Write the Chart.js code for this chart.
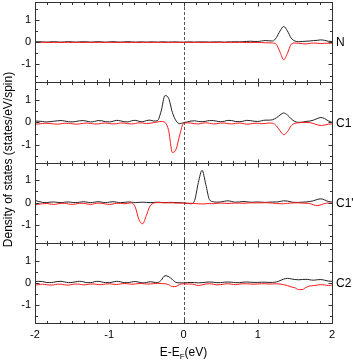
<!DOCTYPE html>
<html>
<head>
<meta charset="utf-8">
<script src="https://cdn.jsdelivr.net/npm/chart.js@4.4.0/dist/chart.umd.min.js"></script>
<style>
  html, body { margin: 0; padding: 0; background: #fff; }
  canvas { display: block; }
</style>
</head>
<body>
<canvas id="dos" width="353" height="363"></canvas>
<script>
// energy grid (eV, relative to Fermi level)
const energy = [
  -2, -1.95, -1.9, -1.85, -1.8, -1.75, -1.7, -1.65, -1.6, -1.55,
  -1.5, -1.45, -1.4, -1.35, -1.3, -1.25, -1.2, -1.15, -1.1, -1.05,
  -1, -0.95, -0.9, -0.85, -0.8, -0.75, -0.7, -0.65, -0.6, -0.55,
  -0.5, -0.45, -0.4, -0.35, -0.3, -0.25, -0.2, -0.15, -0.1, -0.05,
  0, 0.05, 0.1, 0.15, 0.2, 0.25, 0.3, 0.35, 0.4, 0.45,
  0.5, 0.55, 0.6, 0.65, 0.7, 0.75, 0.8, 0.85, 0.9, 0.95,
  1, 1.05, 1.1, 1.15, 1.2, 1.25, 1.3, 1.35, 1.4, 1.45,
  1.5, 1.55, 1.6, 1.65, 1.7, 1.75, 1.8, 1.85, 1.9, 1.95,
  2
];

// N
const nUp = [
  0.01, 0.02, 0.01, 0, 0.01, 0.02, 0.01, 0, 0.01, 0.02,
  0.01, 0, 0.01, 0.02, 0.01, 0, 0.01, 0.02, 0.01, 0,
  0.01, 0.02, 0.01, 0, 0.01, 0.02, 0.01, 0, 0.01, 0.01,
  0, 0.01, 0.01, 0, 0.01, 0.01, 0, 0.01, 0.01, 0,
  0, 0.01, 0.01, 0, 0.01, 0.01, 0.01, 0, 0.01, 0.01,
  0.01, 0, 0.01, 0.01, 0.02, 0.01, 0.02, 0.03, 0.04, 0.03,
  0.03, 0.05, 0.07, 0.06, 0.05, 0.2, 0.5, 0.7, 0.5, 0.18,
  0.05, 0.02, 0.03, 0.04, 0.05, 0.07, 0.08, 0.1, 0.08, 0.04,
  0.03
];
const nDn = [
  -0.01, -0.02, -0.01, -0.01, -0.02, -0.01, -0.01, -0.02, -0.01, -0.01,
  -0.02, -0.01, -0.01, -0.02, -0.01, -0.01, -0.02, -0.01, -0.01, -0.02,
  -0.01, -0.01, -0.02, -0.01, -0.01, -0.02, -0.01, -0.01, -0.02, -0.01,
  -0.01, -0.02, -0.01, -0.01, -0.01, -0.02, -0.01, -0.01, -0.01, -0.01,
  -0.01, -0.01, -0.02, -0.01, -0.01, -0.02, -0.01, -0.01, -0.02, -0.01,
  -0.01, -0.02, -0.01, -0.01, -0.02, -0.01, -0.01, -0.02, -0.02, -0.01,
  -0.02, -0.02, -0.03, -0.03, -0.04, -0.1, -0.45, -0.79, -0.5, -0.1,
  -0.04, -0.05, -0.07, -0.08, -0.06, -0.04, -0.05, -0.06, -0.05, -0.05,
  -0.05
];

// C1
const c1Up = [
  0.06, 0.05, 0.04, 0.02, 0.03, 0.05, 0.07, 0.08, 0.06, 0.03,
  0.02, 0.04, 0.07, 0.08, 0.05, 0.02, 0.04, 0.08, 0.07, 0.03,
  0.02, 0.05, 0.09, 0.07, 0.03, 0.02, 0.07, 0.09, 0.05, 0.03,
  0.08, 0.1, 0.06, 0.08, 0.52, 1.2, 1.08, 0.45, 0.07, -0.06,
  -0.01, 0.02, 0.06, 0.07, 0.04, 0.03, 0.05, 0.08, 0.08, 0.05,
  0.03, 0.05, 0.09, 0.08, 0.04, 0.03, 0.05, 0.09, 0.08, 0.05,
  0.04, 0.07, 0.1, 0.1, 0.12, 0.2, 0.33, 0.42, 0.33, 0.16,
  0.04, 0, 0.01, 0.04, 0.06, 0.1, 0.17, 0.22, 0.17, 0.07,
  0
];
const c1Dn = [
  -0.08, -0.07, -0.05, -0.04, -0.05, -0.07, -0.08, -0.06, -0.04, -0.04,
  -0.06, -0.08, -0.07, -0.04, -0.03, -0.05, -0.07, -0.07, -0.04, -0.03,
  -0.05, -0.07, -0.06, -0.03, -0.03, -0.06, -0.07, -0.05, -0.02, -0.03,
  -0.05, -0.04, -0.01, 0.02, 0.04, 0, -0.37, -1.35, -1.2, -0.55,
  -0.05, -0.02, -0.03, -0.06, -0.07, -0.04, -0.02, -0.04, -0.07, -0.06,
  -0.03, -0.03, -0.06, -0.07, -0.04, -0.03, -0.05, -0.08, -0.07, -0.04,
  -0.04, -0.06, -0.05, -0.03, -0.04, -0.15, -0.38, -0.55, -0.42, -0.15,
  -0.04, -0.02, 0, 0, -0.01, -0.05, -0.11, -0.14, -0.12, -0.08,
  -0.07
];

// C1'
const c1pUp = [
  0.1, 0.05, 0.01, 0, 0.02, 0.03, 0.01, 0, 0.02, 0.03,
  0.01, 0, 0.02, 0.04, 0.02, 0, 0.02, 0.04, 0.02, 0,
  0.02, 0.04, 0.02, 0, 0.01, 0.03, 0.02, 0, 0.01, 0.02,
  0.01, 0, 0.01, 0.02, 0.01, 0, 0.01, 0.01, 0, 0,
  -0.01, -0.03, -0.05, 0.1, 0.9, 1.45, 0.82, 0.13, 0.04, 0.02,
  0.03, 0.06, 0.08, 0.05, 0.02, 0.03, 0.05, 0.04, 0.02, 0.02,
  0.03, 0.02, 0.01, 0.02, 0.03, 0.03, 0.05, 0.08, 0.07, 0.03,
  0.01, 0.01, 0.02, 0.03, 0.05, 0.08, 0.14, 0.17, 0.12, 0.05,
  0.03
];
const c1pDn = [
  -0.09, -0.07, -0.05, -0.04, -0.06, -0.08, -0.06, -0.03, -0.03, -0.06,
  -0.08, -0.06, -0.03, -0.03, -0.06, -0.08, -0.05, -0.02, -0.03, -0.06,
  -0.08, -0.06, -0.03, -0.03, -0.05, -0.03, -0.01, -0.2, -0.76, -0.95,
  -0.57, -0.15, -0.02, 0, 0, -0.01, -0.01, -0.01, -0.02, -0.02,
  -0.02, -0.03, -0.03, -0.04, -0.05, -0.06, -0.05, -0.04, -0.05, -0.03,
  -0.02, -0.03, -0.04, -0.03, -0.02, -0.02, -0.03, -0.02, -0.01, -0.01,
  -0.01, -0.01, 0, -0.01, -0.02, -0.04, -0.05, -0.05, -0.03, -0.02,
  -0.01, -0.01, -0.02, -0.03, -0.04, -0.1, -0.13, -0.1, -0.04, -0.02,
  -0.03
];

// C2
const c2Up = [
  0.05, 0.07, 0.06, 0.02, 0.01, 0.03, 0.06, 0.07, 0.04, 0.01,
  0.02, 0.05, 0.07, 0.05, 0.01, 0.01, 0.05, 0.07, 0.04, 0.01,
  0.01, 0.04, 0.07, 0.05, 0.01, 0.01, 0.04, 0.06, 0.03, 0,
  0.02, 0.05, 0.03, 0.01, 0.12, 0.32, 0.28, 0.15, 0.02, 0,
  0, 0.01, 0.02, 0.01, 0, 0.01, 0.03, 0.04, 0.03, 0.01,
  0.01, 0.03, 0.04, 0.03, 0.01, 0.01, 0.03, 0.04, 0.03, 0.02,
  0.02, 0.03, 0.03, 0.02, 0.02, 0.04, 0.1, 0.17, 0.2, 0.18,
  0.15, 0.14, 0.15, 0.16, 0.14, 0.12, 0.14, 0.15, 0.12, 0.08,
  0.07
];
const c2Dn = [
  -0.1, -0.08, -0.06, -0.08, -0.1, -0.09, -0.06, -0.06, -0.09, -0.1,
  -0.07, -0.05, -0.06, -0.09, -0.08, -0.05, -0.05, -0.08, -0.08, -0.05,
  -0.04, -0.06, -0.07, -0.05, -0.03, -0.04, -0.06, -0.05, -0.03, -0.03,
  -0.05, -0.05, -0.03, -0.02, -0.03, -0.04, -0.08, -0.17, -0.16, -0.07,
  -0.04, -0.05, -0.05, -0.08, -0.12, -0.09, -0.05, -0.04, -0.06, -0.09,
  -0.08, -0.05, -0.04, -0.06, -0.08, -0.06, -0.04, -0.04, -0.05, -0.06,
  -0.05, -0.04, -0.04, -0.05, -0.05, -0.04, -0.05, -0.08, -0.12, -0.18,
  -0.22, -0.3, -0.3, -0.2, -0.14, -0.12, -0.1, -0.08, -0.09, -0.12,
  -0.1
];

const panels = ["N", "C1", "C1'", "C2"];
const upSeries = [nUp, c1Up, c1pUp, c2Up];
const dnSeries = [nDn, c1Dn, c1pDn, c2Dn];
const xTicks = [-2, -1, 0, 1, 2];
const yTicks = [-1, 0, 1];
const yMinorTicks = [-1.5, -0.5, 0.5, 1.5];
const xMinorPerUnit = 6;

const FONT = "'Liberation Sans', Arial, sans-serif";

upSeries.concat(dnSeries).forEach((a, i) => {
  if (a.length !== energy.length) throw new Error("series " + i + " has " + a.length + " points");
});

function pts(arr) {
  return energy.map((e, i) => ({ x: e, y: arr[i] }));
}

const datasets = [];
panels.forEach((name, k) => {
  const yId = "y" + (k + 1);
  datasets.push({ label: name + " down", data: pts(dnSeries[k]), yAxisID: yId,
    borderColor: "#ff1a1a", borderWidth: 1, pointRadius: 0, order: 1,
    cubicInterpolationMode: "monotone" });
  datasets.push({ label: name + " up", data: pts(upSeries[k]), yAxisID: yId,
    borderColor: "#222", borderWidth: 1, pointRadius: 0, order: 2,
    cubicInterpolationMode: "monotone" });
});

const scales = {
  x: {
    type: "linear", min: -2, max: 2,
    afterBuildTicks: s => { s.ticks = xTicks.map(v => ({ value: v })); },
    ticks: { font: { family: FONT, size: 11 }, color: "#000", padding: 5 },
    grid: { display: false, drawTicks: false },
    border: { display: false },
    afterFit: s => { s.height = 40; s.paddingLeft = 0; s.paddingRight = 0; }
  }
};
// stacked left axes are laid out last-defined first, so add them bottom-up
for (let k = panels.length - 1; k >= 0; k--) {
  scales["y" + (k + 1)] = {
    type: "linear", position: "left", stack: "dos", stackWeight: 1,
    min: -1.8, max: 1.8,
    afterBuildTicks: s => { s.ticks = yTicks.map(v => ({ value: v })); },
    ticks: { font: { family: FONT, size: 11 }, color: "#000", padding: 4 },
    grid: { display: false, drawTicks: false },
    border: { display: false },
    afterFit: s => { s.width = 35; s.paddingTop = 0; s.paddingBottom = 0; }
  };
}

const frame = {
  id: "frame",
  beforeDatasetsDraw(chart) {
    const { ctx, chartArea: a, scales } = chart;
    const x0 = Math.round(scales.x.getPixelForValue(0)) + 0.5;
    ctx.save();
    ctx.strokeStyle = "#555";
    ctx.lineWidth = 1;
    ctx.setLineDash([3, 2]);
    ctx.beginPath();
    ctx.moveTo(x0, a.top);
    ctx.lineTo(x0, a.bottom);
    ctx.stroke();
    ctx.restore();
  },
  afterDraw(chart) {
    const { ctx, chartArea: a, scales } = chart;
    const xs = scales.x;
    ctx.save();
    ctx.strokeStyle = "#333";
    ctx.lineWidth = 1;
    panels.forEach((name, k) => {
      const ys = scales["y" + (k + 1)];
      const top = Math.round(ys.top) + 0.5;
      const bot = Math.round(ys.bottom) + 0.5;
      const left = Math.round(a.left) + 0.5;
      const right = Math.round(a.right) + 0.5;
      ctx.strokeRect(left, top, right - left, bot - top);

      ctx.beginPath();
      // ticks along top and bottom edges, pointing inward
      for (let i = 0; i < xTicks.length; i++) {
        const steps = i < xTicks.length - 1 ? xMinorPerUnit : 1;
        for (let j = 0; j < steps; j++) {
          const v = xTicks[i] + j / xMinorPerUnit;
          const len = j === 0 ? 4 : 2.5;
          const px = Math.round(xs.getPixelForValue(v)) + 0.5;
          ctx.moveTo(px, bot); ctx.lineTo(px, bot - len);
          ctx.moveTo(px, top); ctx.lineTo(px, top + len);
        }
      }
      // ticks along left and right edges
      yTicks.concat(yMinorTicks).forEach(v => {
        const len = yTicks.includes(v) ? 4 : 2.5;
        const py = Math.round(ys.getPixelForValue(v)) + 0.5;
        ctx.moveTo(left, py); ctx.lineTo(left + len, py);
        ctx.moveTo(right, py); ctx.lineTo(right - len, py);
      });
      ctx.stroke();

      // panel name on the right
      ctx.fillStyle = "#000";
      ctx.font = "12px " + FONT;
      ctx.textAlign = "left";
      ctx.textBaseline = "middle";
      ctx.fillText(name, a.right + 4, ys.getPixelForValue(0) + 1);
    });

    // y title
    ctx.save();
    ctx.translate(9, (a.top + a.bottom) / 2 - 3);
    ctx.rotate(-Math.PI / 2);
    ctx.font = "12px " + FONT;
    ctx.textAlign = "center";
    ctx.textBaseline = "middle";
    ctx.fillText("Density of states (states/eV/spin)", 0, 0);
    ctx.restore();

    // x title with subscript F
    const big = "12px " + FONT, small = "8px " + FONT;
    ctx.textAlign = "left";
    ctx.textBaseline = "alphabetic";
    ctx.font = big;
    const w1 = ctx.measureText("E-E").width;
    const w3 = ctx.measureText("(eV)").width;
    ctx.font = small;
    const w2 = ctx.measureText("F").width;
    let x = xs.getPixelForValue(0) - (w1 + w2 + w3) / 2;
    const base = 356;
    ctx.font = big;
    ctx.fillText("E-E", x, base);
    ctx.font = small;
    ctx.fillText("F", x + w1, base + 3);
    ctx.font = big;
    ctx.fillText("(eV)", x + w1 + w2, base);
    ctx.restore();
  }
};

new Chart(document.getElementById("dos"), {
  type: "line",
  data: { datasets },
  options: {
    responsive: false,
    animation: false,
    devicePixelRatio: 1,
    events: [],
    layout: { padding: { top: 2, right: 21, left: 0, bottom: 0 } },
    plugins: { legend: { display: false }, tooltip: { enabled: false } },
    scales
  },
  plugins: [frame]
});
</script>
</body>
</html>
